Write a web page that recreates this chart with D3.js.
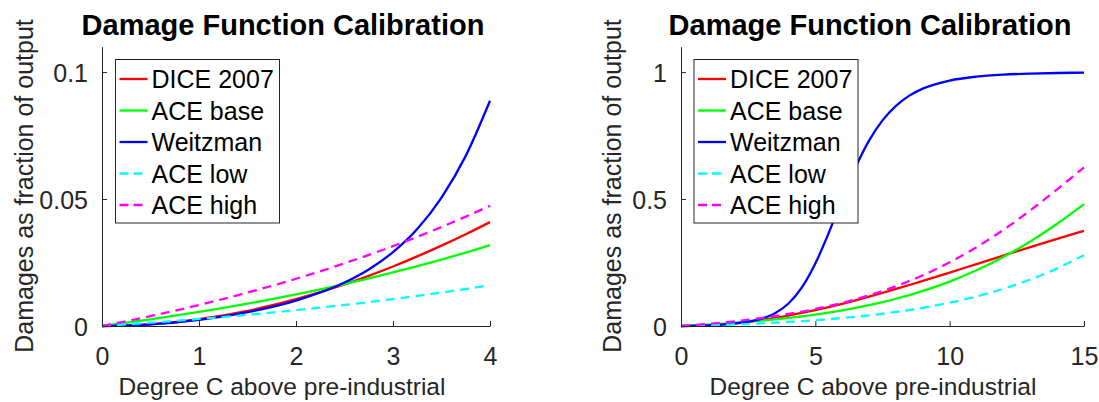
<!DOCTYPE html>
<html>
<head>
<meta charset="utf-8">
<script src="https://cdn.jsdelivr.net/npm/d3@7"></script>
<style>
  body { margin: 0; background: #fff; }
  svg { display: block; font-family: "Liberation Sans", Arial, sans-serif; }
</style>
</head>
<body>
<div id="container"></div>
<script>
/* DATA */
const seriesNames = ["DICE 2007", "ACE base", "Weitzman", "ACE low", "ACE high"];

// left panel, temperature 0..4
const leftT = [0, 0.5, 1, 1.5, 2, 2.5, 2.75, 3, 3.25, 3.5, 3.75, 4];
const leftDice = [0, 0.00067, 0.00266, 0.00596, 0.01055, 0.01639, 0.01977, 0.02344, 0.0274, 0.03164, 0.03614, 0.04092];
const leftAceBase = [0, 0.00261, 0.00553, 0.00879, 0.01245, 0.01652, 0.01874, 0.02108, 0.02355, 0.02617, 0.02893, 0.03184];
const leftWeitzman = [0, 0.0006, 0.00239, 0.00542, 0.0100, 0.0171, 0.02226, 0.0291, 0.0382, 0.0506, 0.0670, 0.0887];
const leftAceLow = [0, 0.00131, 0.00277, 0.00441, 0.00624, 0.0083, 0.00941, 0.0106, 0.01185, 0.01317, 0.01457, 0.01605];
const leftAceHigh = [0, 0.00391, 0.00828, 0.01316, 0.01861, 0.02468, 0.02798, 0.03145, 0.03512, 0.03899, 0.04307, 0.04738];

// right panel, temperature 0..15
const rightT = [0, 1, 2, 3, 3.5, 4, 4.5, 5, 5.5, 6, 6.5, 7, 7.5, 8, 8.5, 9, 10, 11, 12, 13, 14, 15];
const rightDice = [0, 0.00266, 0.01055, 0.02344, 0.03164, 0.04092, 0.05123, 0.0625, 0.07465, 0.08759, 0.10126, 0.11557, 0.13043, 0.14582, 0.16154, 0.17763, 0.21053, 0.244, 0.27746, 0.31068, 0.34326, 0.375];
const rightAceBase = [0, 0.00553, 0.01245, 0.02108, 0.02617, 0.03184, 0.03817, 0.04522, 0.05306, 0.06179, 0.07149, 0.08224, 0.09416, 0.10734, 0.12191, 0.13798, 0.17503, 0.21938, 0.27187, 0.33296, 0.40255, 0.47996];
const rightWeitzman = [0, 0.0024, 0.0100, 0.0291, 0.0506, 0.0887, 0.1520, 0.2461, 0.3670, 0.4999, 0.6253, 0.7300, 0.8097, 0.8672, 0.9072, 0.9347, 0.9667, 0.9822, 0.9900, 0.9941, 0.9964, 0.9978];
const rightAceLow = [0, 0.00277, 0.00624, 0.0106, 0.01317, 0.01605, 0.01927, 0.02287, 0.02689, 0.03139, 0.03641, 0.042, 0.04824, 0.0552, 0.06294, 0.07155, 0.09172, 0.11649, 0.14671, 0.18329, 0.22707, 0.27888];
const rightAceHigh = [0, 0.00828, 0.01861, 0.03145, 0.03899, 0.04738, 0.0567, 0.06705, 0.07853, 0.09124, 0.10529, 0.12079, 0.13786, 0.15662, 0.17718, 0.19965, 0.2507, 0.31032, 0.3787, 0.45522, 0.53826, 0.625];

const leftXTicks = [0, 1, 2, 3, 4];
const leftYTicks = [0, 0.05, 0.1];
const rightXTicks = [0, 5, 10, 15];
const rightYTicks = [0, 0.5, 1];

/* STYLE */
const colors = ["#ff0000", "#00ff00", "#0000ff", "#00ffff", "#ff00ff"];
const dashes = [null, null, null, "9,6", "9,6"];
const axisColor = "#262626";

const width = 1099, height = 402;

const svg = d3.select("#container")
  .append("svg")
  .attr("width", width)
  .attr("height", height);

function drawPanel(p) {
  const x = d3.scaleLinear().domain(p.xDomain).range([p.left, p.right]);
  const y = d3.scaleLinear().domain(p.yDomain).range([326, 46.7]);

  const g = svg.append("g");

  // lines
  const line = d3.line()
    .x(d => x(d[0]))
    .y(d => y(d[1]))
    .curve(d3.curveMonotoneX);

  p.series.forEach((vals, i) => {
    g.append("path")
      .datum(p.t.map((t, j) => [t, vals[j]]))
      .attr("d", line)
      .attr("fill", "none")
      .attr("stroke", colors[i])
      .attr("stroke-width", 2.3)
      .attr("stroke-dasharray", dashes[i]);
  });

  // axes (ticks inward, like matlab)
  const xAxis = d3.axisBottom(x)
    .tickValues(p.xTicks)
    .tickSize(-5)
    .tickSizeOuter(0)
    .tickPadding(16)
    .tickFormat(d3.format("~g"));
  const gx = g.append("g")
    .attr("transform", `translate(0,${y(0)})`)
    .call(xAxis);

  const yAxis = d3.axisLeft(y)
    .tickValues(p.yTicks)
    .tickSize(-5)
    .tickSizeOuter(0)
    .tickPadding(14)
    .tickFormat(d3.format("~g"));
  const gy = g.append("g")
    .attr("transform", `translate(${x(0)},0)`)
    .call(yAxis);

  [gx, gy].forEach(a => {
    a.select(".domain").attr("stroke", axisColor);
    a.selectAll(".tick line").attr("stroke", axisColor);
    a.selectAll(".tick text")
      .attr("fill", axisColor)
      .style("font-size", "25px")
      .style("font-family", "Liberation Sans, Arial, sans-serif");
  });
  gx.selectAll(".tick text").attr("dy", "0.9em");
  gy.selectAll(".tick text").attr("dy", "0.36em");

  // title and labels
  g.append("text")
    .attr("x", p.titleX)
    .attr("y", 35)
    .attr("text-anchor", "middle")
    .style("font-size", "29px")
    .style("font-weight", "bold")
    .attr("fill", "#000")
    .text("Damage Function Calibration");

  g.append("text")
    .attr("x", p.xLabelX)
    .attr("y", 395)
    .attr("text-anchor", "middle")
    .style("font-size", "24.5px")
    .attr("fill", axisColor)
    .text("Degree C above pre-industrial");

  g.append("text")
    .attr("transform", `translate(${p.yLabelX},186) rotate(-90)`)
    .attr("text-anchor", "middle")
    .attr("dy", "0.35em")
    .style("font-size", "25px")
    .attr("fill", axisColor)
    .text("Damages as fraction of output");

  // legend
  const lg = g.append("g").attr("transform", `translate(${p.legendX},59.5)`);
  lg.append("rect")
    .attr("width", 164)
    .attr("height", 163.5)
    .attr("fill", "#fff")
    .attr("stroke", axisColor)
    .attr("stroke-width", 1);
  seriesNames.forEach((name, i) => {
    const cy = 19.5 + i * 31.5;
    lg.append("line")
      .attr("x1", 4).attr("x2", 32)
      .attr("y1", cy).attr("y2", cy)
      .attr("stroke", colors[i])
      .attr("stroke-width", 2.3)
      .attr("stroke-dasharray", dashes[i] ? "9,5" : null);
    lg.append("text")
      .attr("x", 36)
      .attr("y", cy)
      .attr("dy", "0.36em")
      .style("font-size", "25px")
      .attr("fill", "#000")
      .text(name);
  });
}

drawPanel({
  t: leftT,
  series: [leftDice, leftAceBase, leftWeitzman, leftAceLow, leftAceHigh],
  xDomain: [0, 4], yDomain: [0, 0.11],
  left: 102, right: 490,
  xTicks: leftXTicks, yTicks: leftYTicks,
  titleX: 283, xLabelX: 282, yLabelX: 24, legendX: 115.5
});

drawPanel({
  t: rightT,
  series: [rightDice, rightAceBase, rightWeitzman, rightAceLow, rightAceHigh],
  xDomain: [0, 15], yDomain: [0, 1.1],
  left: 681, right: 1084,
  xTicks: rightXTicks, yTicks: rightYTicks,
  titleX: 870, xLabelX: 873, yLabelX: 612, legendX: 694
});
</script>
</body>
</html>
